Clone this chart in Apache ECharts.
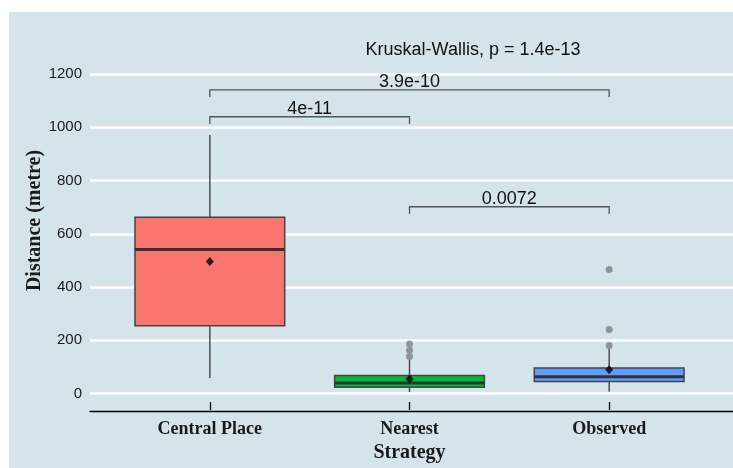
<!DOCTYPE html>
<html>
<head>
<meta charset="utf-8">
<script src="https://cdn.jsdelivr.net/npm/echarts@6/dist/echarts.min.js"></script>
<style>
  html, body { margin: 0; padding: 0; background: #ffffff; }
  #panel { position: absolute; left: 9px; top: 12px; width: 724px; height: 456px; background: #d5e4eb; }
  #chart { position: absolute; left: 0; top: 0; width: 733px; height: 468px; }
</style>
</head>
<body>
<div id="panel"></div>
<div id="chart"></div>
<script>
// ---- data ----
const categories = ['Central Place', 'Nearest', 'Observed'];
const whiskerLow = [55, 2, 3];
const q1 = [252, 20, 42];
const median = [539, 36, 60];
const q3 = [660, 64, 93];
const whiskerHigh = [970, 128, 168];
const means = [494, 51, 86];
const outlierGroup = [1, 1, 1, 2, 2, 2];
const outlierValue = [136, 159, 183, 177, 238, 464];
const boxColors = ['#F8766D', '#00BA38', '#619CFF'];
const yTicks = [0, 200, 400, 600, 800, 1000, 1200];
const bracketFrom = [0, 0, 1];
const bracketTo = [1, 2, 2];
const bracketHeight = [1039, 1140, 700];
const bracketLabel = ['4e-11', '3.9e-10', '0.0072'];
const bracketTip = 27;
const testLabel = 'Kruskal-Wallis, p = 1.4e-13';

const yMin = -66, yMax = 1298;
const GRID_TOP = 48, GRID_BOTTOM = 57;

const boxData = categories.map((c, i) => [i, whiskerLow[i], q1[i], median[i], q3[i], whiskerHigh[i]]);
const outlierData = outlierGroup.map((g, i) => [g, outlierValue[i]]);
const meanData = means.map((m, i) => [i, m]);
const bracketData = bracketFrom.map((f, i) => [f, bracketTo[i], bracketHeight[i], i]);

const chart = echarts.init(document.getElementById('chart'), null, { renderer: 'canvas' });

chart.setOption({
  animation: false,
  backgroundColor: 'transparent',
  grid: [
    { left: 90, right: 0, top: GRID_TOP, bottom: GRID_BOTTOM, containLabel: false },
    { left: 110, right: 24, top: GRID_TOP, bottom: GRID_BOTTOM, containLabel: false }
  ],
  xAxis: [
    {
      gridIndex: 0, type: 'value', min: 0, max: 1, position: 'bottom',
      axisLine: { show: true, onZero: false, lineStyle: { color: '#000', width: 1.3 } },
      axisTick: { show: false }, axisLabel: { show: false }, splitLine: { show: false }
    },
    {
      gridIndex: 1, type: 'category', data: categories, boundaryGap: true, position: 'bottom',
      axisLine: { show: false, onZero: false },
      axisTick: { show: true, inside: true, length: 8, alignWithLabel: true, lineStyle: { color: '#000', width: 1.3 } },
      axisLabel: { show: true, margin: 10, color: '#1a1a1a', fontFamily: 'Liberation Serif', fontWeight: 'bold', fontSize: 18 },
      splitLine: { show: false },
      name: 'Strategy', nameLocation: 'middle', nameGap: 29,
      nameTextStyle: { color: '#1a1a1a', fontFamily: 'Liberation Serif', fontWeight: 'bold', fontSize: 20 }
    }
  ],
  yAxis: [
    {
      gridIndex: 0, type: 'value', min: yMin, max: yMax,
      axisLine: { show: false },
      axisTick: { show: false, customValues: yTicks },
      axisLabel: { show: true, customValues: yTicks, margin: 8, color: '#1a1a1a', fontFamily: 'Liberation Sans', fontSize: 15,
        formatter: function (v) { return String(v); } },
      splitLine: { show: true, lineStyle: { color: '#ffffff', width: 2.5 } }
    },
    {
      gridIndex: 1, type: 'value', min: yMin, max: yMax, show: false,
      splitLine: { show: false }
    }
  ],
  graphic: [
    {
      type: 'text', x: 35, y: 220.5, rotation: Math.PI / 2,
      style: { text: 'Distance (metre)', fill: '#1a1a1a', font: 'bold 20px "Liberation Serif"', align: 'center', verticalAlign: 'middle' }
    },
    {
      type: 'text', x: 473, y: 50,
      style: { text: testLabel, fill: '#111', font: '18px "Liberation Sans"', align: 'center', verticalAlign: 'middle' }
    }
  ],
  series: [
    {
      type: 'custom', xAxisIndex: 1, yAxisIndex: 1, z: 2,
      data: boxData,
      encode: { x: 0, y: [1, 2, 3, 4, 5] },
      renderItem: function (params, api) {
        const i = api.value(0);
        const half = api.size([1, 0])[0] * 0.375;
        const pLow = api.coord([i, api.value(1)]);
        const pQ1 = api.coord([i, api.value(2)]);
        const pMed = api.coord([i, api.value(3)]);
        const pQ3 = api.coord([i, api.value(4)]);
        const pHigh = api.coord([i, api.value(5)]);
        const cx = pQ1[0];
        const stroke = '#444444';
        return {
          type: 'group',
          children: [
            { type: 'line', shape: { x1: cx, y1: pQ3[1], x2: cx, y2: pHigh[1] }, style: { stroke: stroke, lineWidth: 1.4 } },
            { type: 'line', shape: { x1: cx, y1: pQ1[1], x2: cx, y2: pLow[1] }, style: { stroke: stroke, lineWidth: 1.4 } },
            { type: 'rect', shape: { x: cx - half, y: pQ3[1], width: half * 2, height: pQ1[1] - pQ3[1] },
              style: { fill: boxColors[i], stroke: stroke, lineWidth: 1.5 } },
            { type: 'line', shape: { x1: cx - half, y1: pMed[1], x2: cx + half, y2: pMed[1] }, style: { stroke: '#333333', lineWidth: 3 } }
          ]
        };
      }
    },
    {
      type: 'scatter', xAxisIndex: 1, yAxisIndex: 1, z: 3,
      data: outlierData, symbol: 'circle', symbolSize: 7,
      itemStyle: { color: '#8f9496', opacity: 1 }
    },
    {
      type: 'scatter', xAxisIndex: 1, yAxisIndex: 1, z: 4,
      data: meanData, symbol: 'diamond', symbolSize: [8, 9],
      itemStyle: { color: '#000000' }
    },
    {
      type: 'custom', xAxisIndex: 1, yAxisIndex: 1, z: 5,
      data: bracketData,
      encode: { x: [0, 1], y: 2 },
      renderItem: function (params, api) {
        const a = api.value(0), b = api.value(1), h = api.value(2), k = api.value(3);
        const p1 = api.coord([a, h]);
        const p2 = api.coord([b, h]);
        const d1 = api.coord([a, h - bracketTip]);
        const d2 = api.coord([b, h - bracketTip]);
        return {
          type: 'group',
          children: [
            { type: 'polyline', shape: { points: [d1, p1, p2, d2] }, style: { stroke: '#555555', lineWidth: 1.3, fill: 'none' } },
            { type: 'text', x: (p1[0] + p2[0]) / 2, y: p1[1] + 1,
              style: { text: bracketLabel[k], fill: '#111', font: '18px "Liberation Sans"', align: 'center', verticalAlign: 'bottom' } }
          ]
        };
      }
    }
  ]
});
</script>
</body>
</html>
